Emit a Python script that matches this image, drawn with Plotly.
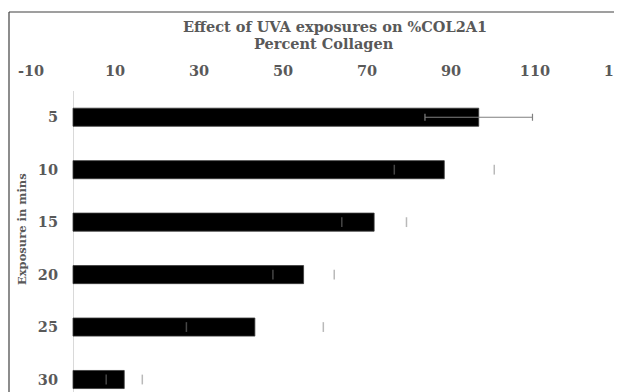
import plotly.graph_objects as go

categories = ["5", "10", "15", "20", "25", "30"]
percent_collagen = [96.6, 88.4, 71.7, 54.9, 43.3, 12.2]
error_values = [12.8, 11.9, 7.7, 7.3, 16.3, 4.3]
x_tick_values = [-10, 10, 30, 50, 70, 90, 110, 130]
chart_title = "Effect of UVA exposures on %COL2A1"
x_title = "Percent Collagen"
y_title = "Exposure in mins"

OFF = 8  # page body margin shifts the figure by this many pixels
W, H = 622 - OFF, 392 - OFF
TOP = 91 - OFF
FONT = "DejaVu Serif"
GRAY = "#595959"


def py(page_px):
    """page pixel row -> paper y"""
    return (H - (page_px - OFF)) / (H - TOP)


def px(page_px):
    """page pixel column -> paper x"""
    return (page_px - OFF) / W


fig = go.Figure()

fig.add_trace(go.Bar(
    x=percent_collagen, y=categories, orientation="h",
    width=0.345,
    marker=dict(color="#000000", line=dict(color="#3a3a3a", width=0.8)),
    showlegend=False, hoverinfo="x+y",
))

# error bar of the first category (fully visible)
fig.add_trace(go.Scatter(
    x=percent_collagen[:1], y=categories[:1], mode="markers",
    marker=dict(size=1, color="rgba(0,0,0,0)"),
    error_x=dict(type="data", array=error_values[:1], color="#808080",
                 thickness=1.2, width=3.5),
    showlegend=False, hoverinfo="skip",
))

# cap-only error marks for the other categories
cap_x = [m - e for m, e in zip(percent_collagen[1:], error_values[1:])] + \
        [m + e for m, e in zip(percent_collagen[1:], error_values[1:])]
cap_y = categories[1:] + categories[1:]
fig.add_trace(go.Scatter(
    x=cap_x, y=cap_y, mode="markers",
    marker=dict(symbol="line-ns", size=7,
                line=dict(color="rgba(128,128,128,0.55)", width=1.5)),
    showlegend=False, hoverinfo="skip",
))

x0_fig = 73.0 - OFF
px_per_unit = 4.2
x_min = -10
x_max = (W - x0_fig) / px_per_unit
left_fig = x0_fig + x_min * px_per_unit

fig.update_layout(
    width=W, height=H,
    margin=dict(l=0, r=0, t=TOP, b=0, autoexpand=False),
    paper_bgcolor="white", plot_bgcolor="white",
    xaxis=dict(
        side="top", range=[x_min, x_max], domain=[left_fig / W, 1],
        tickvals=x_tick_values, ticktext=[str(v) for v in x_tick_values],
        showgrid=False, showline=False, ticks="", automargin=False,
        zeroline=True, zerolinecolor="#d9d9d9", zerolinewidth=1,
        tickfont=dict(family=FONT, size=14.5, color=GRAY, weight="bold"),
        ticklabeloverflow="allow", ticklabelstandoff=11,
    ),
    yaxis=dict(
        type="category", categoryorder="array", categoryarray=categories,
        range=[(H - (117 - OFF)) / 52.5, -0.5], automargin=False,
        anchor="free", position=x0_fig / W,
        showgrid=False, showline=False, ticks="", zeroline=False,
        tickfont=dict(family=FONT, size=14.5, color=GRAY, weight="bold"),
        ticklabelstandoff=15, ticklabeloverflow="allow",
    ),
    annotations=[
        dict(text=chart_title, x=px(335), y=py(26), xref="paper", yref="paper",
             xanchor="center", yanchor="middle", showarrow=False,
             font=dict(family=FONT, size=14.5, color=GRAY, weight="bold")),
        dict(text=x_title, x=px(324), y=py(44), xref="paper", yref="paper",
             xanchor="center", yanchor="middle", showarrow=False,
             font=dict(family=FONT, size=14.5, color=GRAY, weight="bold")),
        dict(text=y_title, textangle=-90,
             x=px(22), y=py(229), xref="paper", yref="paper",
             xanchor="center", yanchor="middle", showarrow=False,
             font=dict(family=FONT, size=11.5, color=GRAY, weight="bold")),
    ],
    shapes=[
        dict(type="line", xref="paper", yref="paper",
             x0=px(9), x1=px(9), y0=-0.05, y1=py(12),
             line=dict(color="#404040", width=1.2)),
        dict(type="line", xref="paper", yref="paper",
             x0=px(9), x1=1.05, y0=py(12), y1=py(12),
             line=dict(color="#404040", width=1.2)),
    ],
)

fig.write_html("out.html")
